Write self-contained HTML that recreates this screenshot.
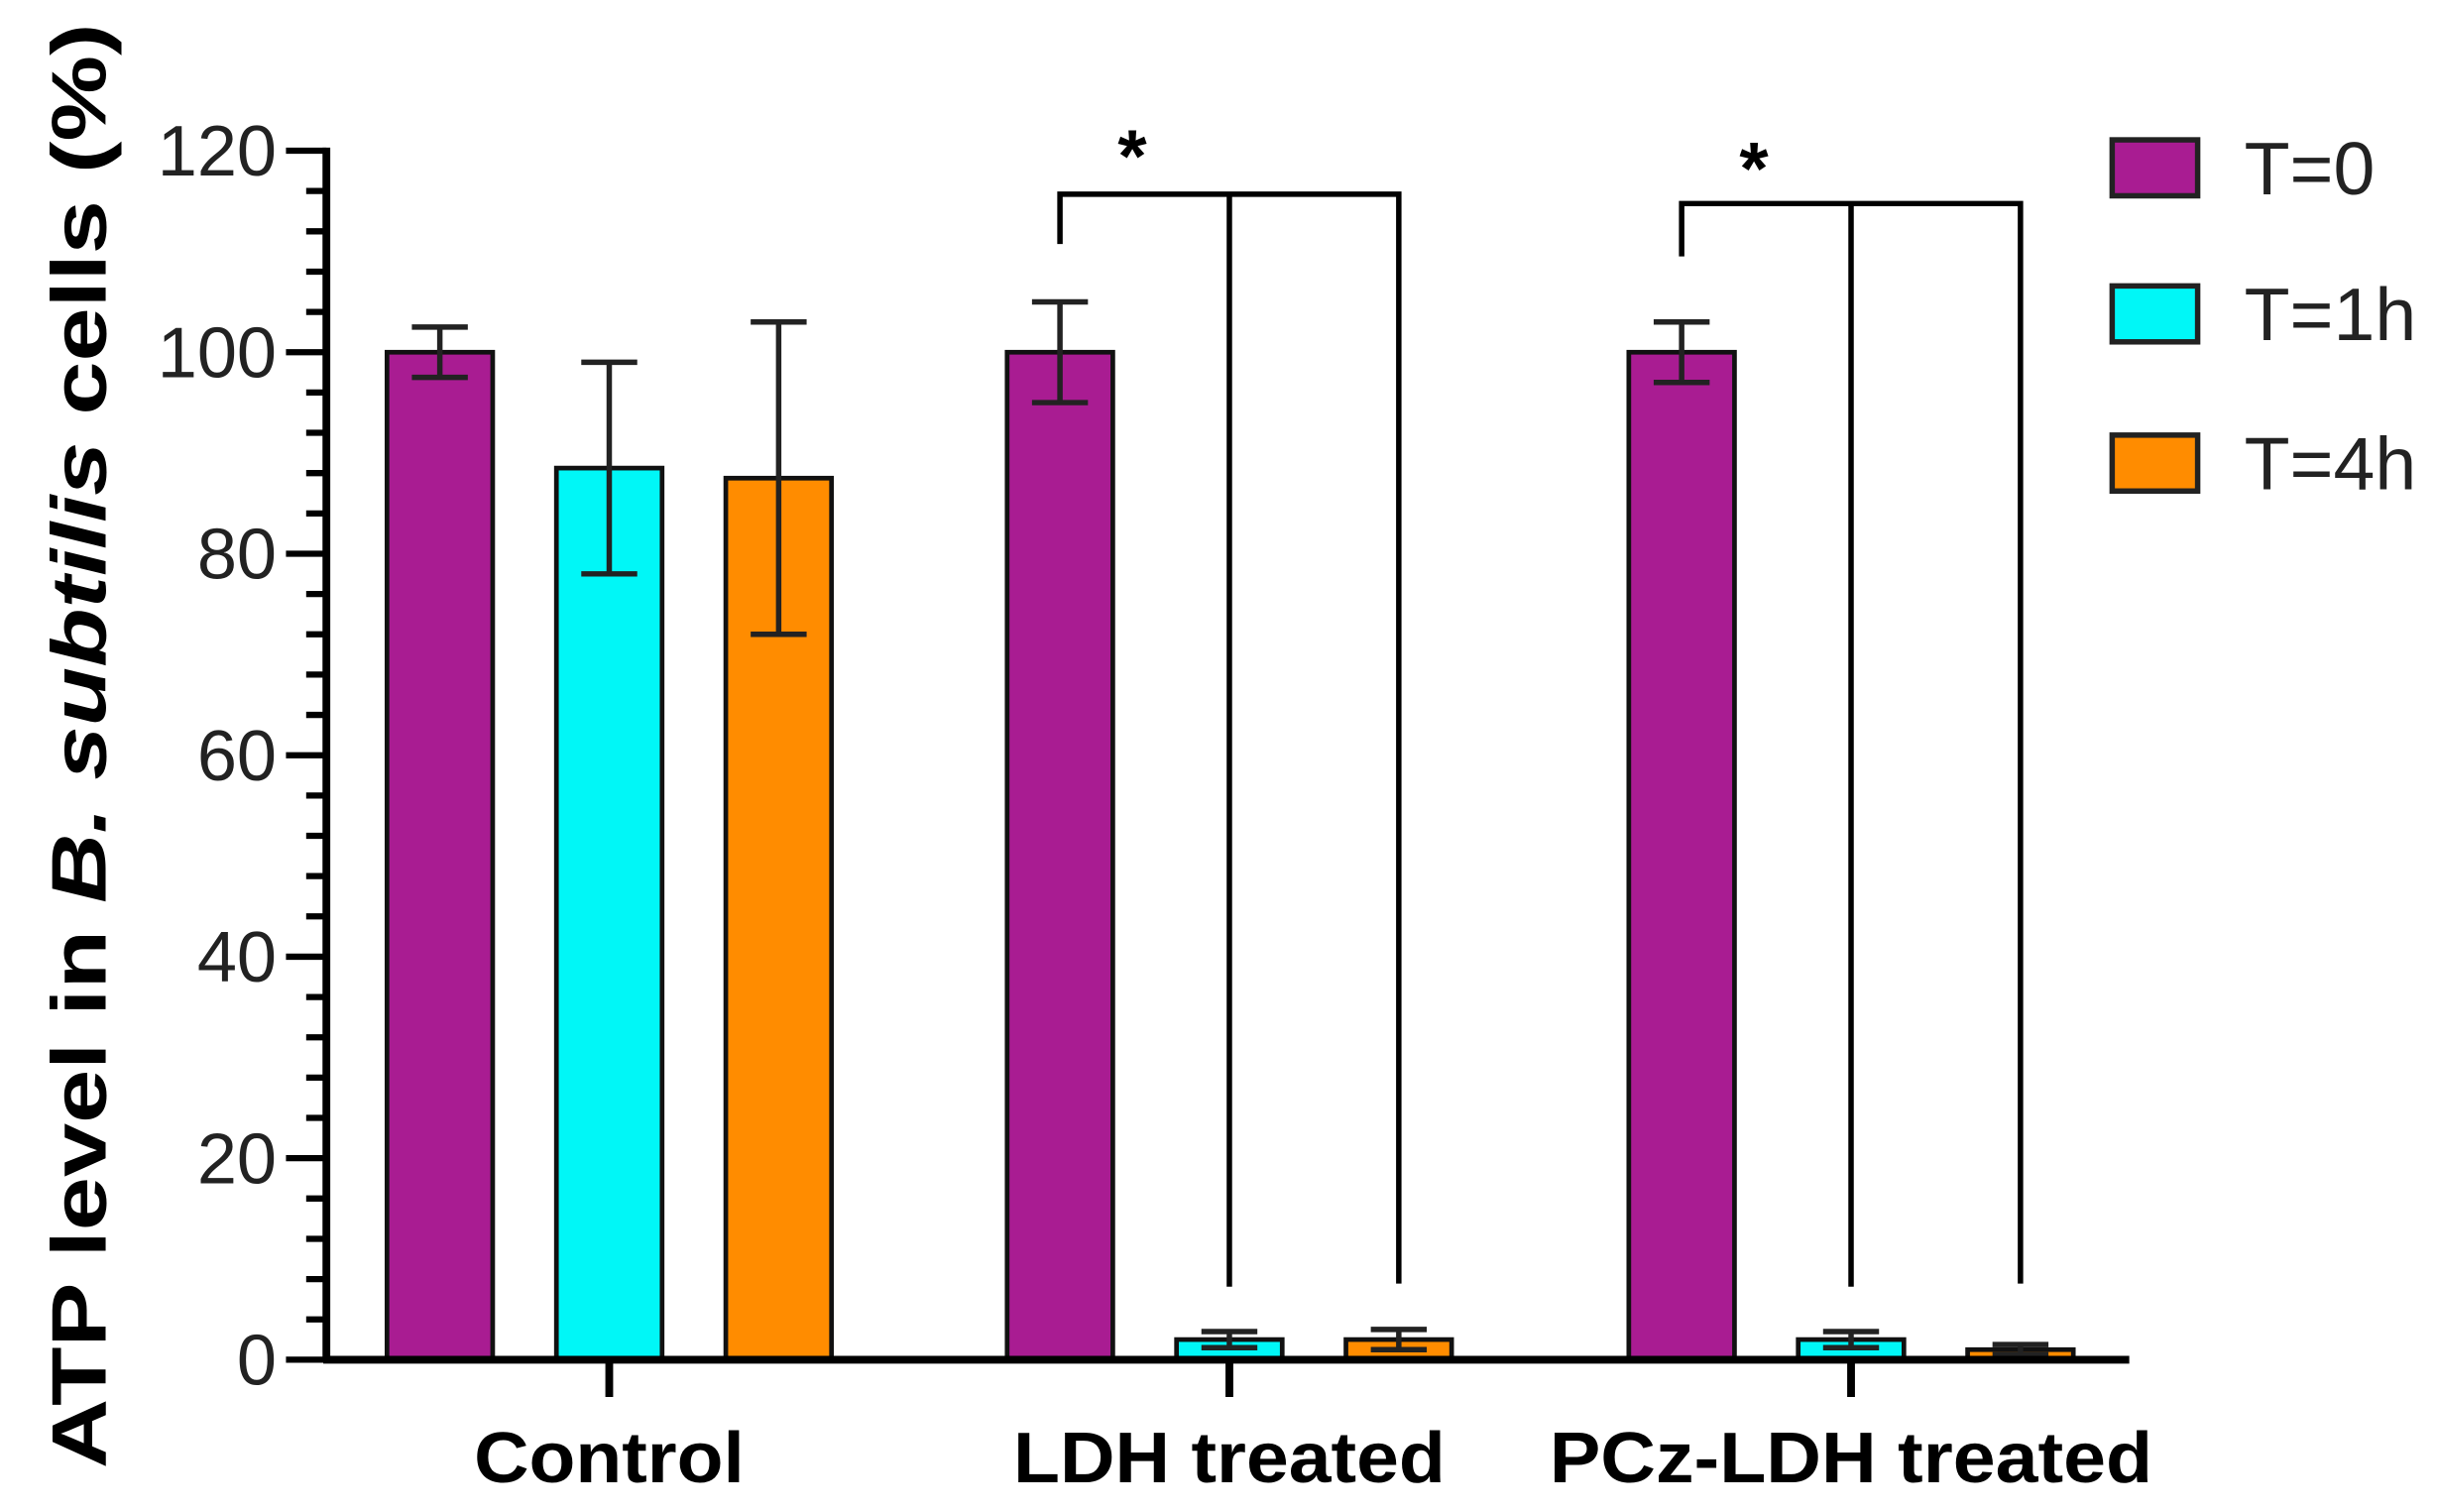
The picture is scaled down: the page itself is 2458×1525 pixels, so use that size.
<!DOCTYPE html>
<html><head><meta charset="utf-8"><style>
html,body{margin:0;padding:0;background:#fff}
svg{display:block}
text{font-family:"Liberation Sans",Arial,sans-serif}
</style></head><body>
<svg id="chart" width="2458" height="1525" viewBox="0 0 1568 973" preserveAspectRatio="none" xmlns="http://www.w3.org/2000/svg"></svg>
<script>
const categories = ["Control", "LDH treated", "PCz-LDH treated"];
const seriesNames = ["T=0", "T=1h", "T=4h"];
const t0Values = [100, 100, 100];
const t1Values = [88.5, 2, 2];
const t4Values = [87.5, 2, 1];
const t0Err = [2.5, 5, 3];
const t1Err = [10.5, 0.8, 0.8];
const t4Err = [15.5, 1, 0.5];
const yTicks = [0, 20, 40, 60, 80, 100, 120];
const seriesColors = ["#a91c92", "#00f7f7", "#ff8c00"];

const svg = document.getElementById('chart');
const NS = "http://www.w3.org/2000/svg";
function mk(tag, attrs, parent) {
  const e = document.createElementNS(NS, tag);
  for (const k in attrs) e.setAttribute(k, attrs[k]);
  (parent || svg).appendChild(e);
  return e;
}
const X0 = 210, XEND = 1370, Y0 = 875, Y120 = 97;
const y = v => Y0 - (v / 120) * (Y0 - Y120);
const groupCenters = [392, 791, 1191];
const labelWidths = [174, 278, 388];
const barW = 68, barStep = 109;
const barX = (g, s) => groupCenters[g] + (s - 1) * barStep - barW / 2;

// y axis
const yAxis = mk('g', {});


mk('line', {x1: X0, y1: y(120) - 2, x2: X0, y2: Y0 + 2, stroke: '#000', 'stroke-width': 5}, yAxis);
for (let v = 0; v <= 120; v += 4) {
  const major = v % 20 === 0;
  mk('line', {x1: major ? 184 : 197, y1: y(v), x2: X0, y2: y(v), stroke: '#000', 'stroke-width': 4}, yAxis);
}
yTicks.forEach(t => {
  const tx = mk('text', {x: 178, y: y(t) + 16, 'text-anchor': 'end', 'font-size': 46, fill: '#222'}, yAxis);
  
  
  tx.textContent = t;
});
// y title
const yt = mk('text', {transform: 'translate(68,480) rotate(-90)', 'text-anchor': 'middle', 'font-size': 50, 'font-weight': 'bold', fill: '#000', textLength: 930, lengthAdjust: 'spacingAndGlyphs'});


yt.innerHTML = 'ATP level in <tspan font-style="italic">B. subtilis</tspan> cells (%)';

// bars
const vals = [t0Values, t1Values, t4Values];
const errs = [t0Err, t1Err, t4Err];
for (let g = 0; g < categories.length; g++) {
  for (let s = 0; s < 3; s++) {
    const v = vals[s][g], e = errs[s][g];
    const bx = barX(g, s);
    const r = mk('rect', {x: bx, y: y(v), width: barW, height: Y0 - y(v), fill: seriesColors[s], stroke: '#111', 'stroke-width': 3});
    
    
    const cx = bx + barW / 2;
    const eb = mk('g', {stroke: '#222', 'stroke-width': 3.5});
    
    
    mk('line', {x1: cx, y1: y(v + e), x2: cx, y2: y(v - e)}, eb);
    mk('line', {x1: cx - 18, y1: y(v + e), x2: cx + 18, y2: y(v + e)}, eb);
    mk('line', {x1: cx - 18, y1: y(v - e), x2: cx + 18, y2: y(v - e)}, eb);
  }
}

// x axis
const xAxis = mk('g', {});


mk('line', {x1: X0 - 2, y1: Y0, x2: XEND, y2: Y0, stroke: '#000', 'stroke-width': 5}, xAxis);
categories.forEach((c, i) => {
  mk('line', {x1: groupCenters[i], y1: Y0, x2: groupCenters[i], y2: Y0 + 24, stroke: '#000', 'stroke-width': 5}, xAxis);
  const t = mk('text', {x: groupCenters[i], y: 954, 'text-anchor': 'middle', 'font-size': 46, 'font-weight': 'bold', fill: '#000', textLength: labelWidths[i], lengthAdjust: 'spacingAndGlyphs'}, xAxis);
  
  
  t.textContent = c;
});

// significance brackets
const brackets = [
  {g: 1, top: 125, left: 157, star: 95},
  {g: 2, top: 131, left: 165, star: 103}
];
brackets.forEach(b => {
  const x0 = barX(b.g, 0) + barW / 2, x1 = barX(b.g, 1) + barW / 2, x2 = barX(b.g, 2) + barW / 2;
  const br = mk('g', {stroke: '#000', 'stroke-width': 3.5, fill: 'none'});
  
  
  mk('path', {d: `M${x0},${b.left} V${b.top} H${x2} V826 M${x1},${b.top} V828`}, br);
  const st = mk('text', {x: (x0 + x1) / 2 - 8, y: b.star + 22, 'text-anchor': 'middle', 'font-size': 48, 'font-weight': 'bold', fill: '#000'});
  
  
  st.textContent = '*';
});

// legend
const legY = [90, 184, 280];
seriesNames.forEach((n, i) => {
  const lg = mk('g', {});
  
  
  mk('rect', {x: 1359, y: legY[i], width: 55, height: 36, fill: seriesColors[i], stroke: '#222', 'stroke-width': 3.5}, lg);
  const t = mk('text', {x: 1444, y: legY[i] + 35, 'font-size': 48, fill: '#222'}, lg);
  t.textContent = n;
});
</script>
</body></html>
